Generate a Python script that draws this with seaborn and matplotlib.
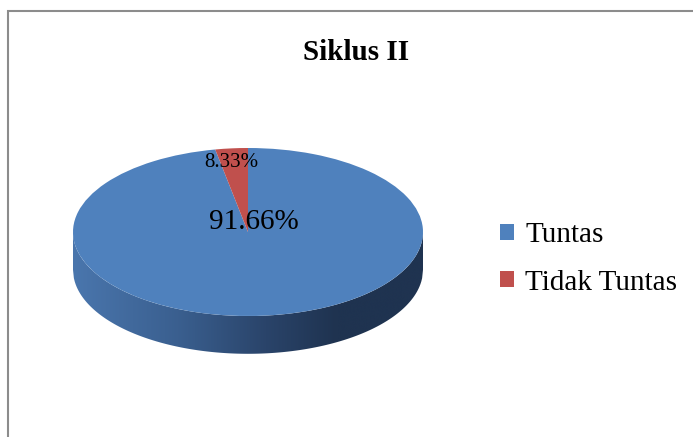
import matplotlib
matplotlib.use("Agg")
import matplotlib.pyplot as plt
import matplotlib.patches as mpatches
from matplotlib.colors import LinearSegmentedColormap
import numpy as np
import seaborn as sns

# data
categories = ["Tuntas", "Tidak Tuntas"]
pct_labels = [91.66, 8.33]          # percentages printed on the chart
slice_sizes = [97.0, 3.0]           # wedge sizes as drawn in the picture
slice_colors = ["#4f81bd", "#c0504d"]
title = "Siklus II"

sns.set_theme(style="white")
plt.rcParams["font.family"] = ["Liberation Serif", "DejaVu Serif"]
plt.rcParams["text.color"] = "black"

W, H = 693, 437
fig = plt.figure(figsize=(W / 100, H / 100), dpi=100)

# pie axes: ellipse 350 px wide, 84 px per y unit, centre at (248, 232)
ylo, yhi = -1.6, 1.2
ry = 84
ax = fig.add_axes([73 / W, 1 - (232 - ylo * ry) / H, 350 / W, (yhi - ylo) * ry / H])

wedges, _ = ax.pie(slice_sizes, colors=slice_colors, startangle=90,
                   counterclock=False, radius=1,
                   wedgeprops=dict(linewidth=0))

# side wall of the 3D pie with a left-to-right shading
depth = 0.45
xs = np.linspace(-1, 1, 400)
upper = -np.sqrt(1 - xs ** 2)
band = ax.fill_between(xs, upper - depth, upper, color="none", linewidth=0)
side_cmap = LinearSegmentedColormap.from_list(
    "side", [(0, "#4a76ad"), (0.3, "#3a5f8f"), (0.55, "#2a446a"),
             (0.75, "#1f3350"), (1, "#1f3350")])
grad = np.linspace(0, 1, 256).reshape(1, -1)
img = ax.imshow(grad, cmap=side_cmap, extent=[-1, 1, -1 - depth, 0],
                aspect="auto", zorder=0, interpolation="bicubic")
clip = mpatches.PathPatch(band.get_paths()[0], transform=ax.transData)
img.set_clip_path(clip)

ax.set_aspect("auto")
ax.set_xlim(-1, 1)
ax.set_ylim(ylo, yhi)
ax.axis("off")

# value labels
ax.text(0.034, 0.12, f"{pct_labels[0]:.2f}%", fontsize=21,
        ha="center", va="center", color="black")
ax.text(-0.097, 0.83, f"{pct_labels[1]:.2f}%", fontsize=15,
        ha="center", va="center", color="black")

fig.text(356 / W, 1 - 52 / H, title, fontsize=21, fontweight="bold",
         ha="center", va="center", color="black")

fig.legend(wedges, categories, loc="center left",
           bbox_to_anchor=(500 / W, 1 - 259 / H), frameon=False,
           fontsize=21, handlelength=0.48, handleheight=0.48,
           handletextpad=0.38, labelspacing=0.72, borderpad=0,
           borderaxespad=0, labelcolor="black")

# chart border (runs off the right and bottom edge)
fig.patches.append(mpatches.Rectangle((7.5 / W, -0.2), 2, 1 - 10.5 / H + 0.2,
                                      transform=fig.transFigure, fill=False,
                                      edgecolor="#8c8c8c", linewidth=1.5,
                                      clip_on=False))

fig.savefig("out.png", dpi=100)
